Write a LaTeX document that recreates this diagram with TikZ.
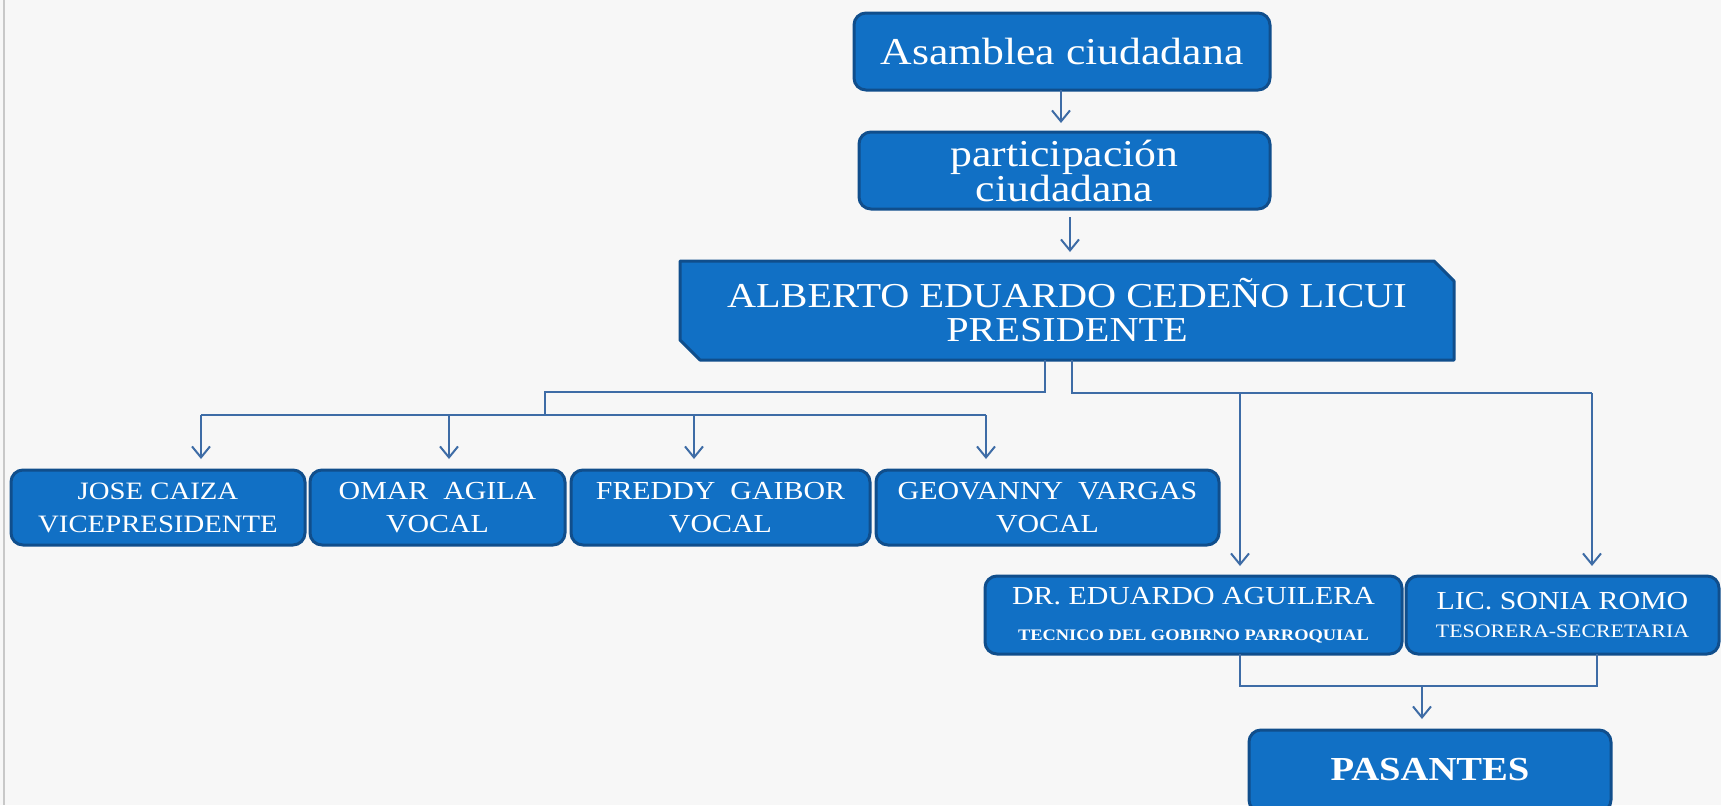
\documentclass[tikz,border=0pt]{standalone}
\usepackage{fontspec}
\setmainfont{Liberation Serif}[FakeStretch=1.15]
\usetikzlibrary{arrows.meta}
\definecolor{bgc}{RGB}{247,247,247}
\definecolor{boxfill}{RGB}{17,112,197}
\definecolor{boxline}{RGB}{16,78,140}
\definecolor{linec}{RGB}{62,108,166}
\definecolor{edgegray}{RGB}{200,200,200}
\begin{document}
\begin{tikzpicture}[x=0.5pt,y=-0.5pt,
  box/.style={rounded corners=6pt, fill=boxfill, draw=boxline, line width=1.5pt, text=white, align=center, inner sep=0pt, outer sep=0pt},
  plainbox/.style={text=white, align=center, inner sep=0pt, outer sep=0pt},
  wire/.style={draw=linec, line width=1pt},
  arr/.style={wire, -{Straight Barb[length=5.5pt,width=9pt,line width=1pt]}},
  low/.style={box, minimum height=37.5pt, font=\fontsize{13}{16.5}\selectfont}
]
\useasboundingbox (0,0) rectangle (1721,805);
\clip (0,0) rectangle (1721,805);
\fill[bgc] (0,0) rectangle (1721,805);
\draw[edgegray, line width=1pt] (4,0) -- (4,805);

% top boxes
\node[box, minimum width=208pt, minimum height=38.5pt, font=\fontsize{19}{21}\selectfont] (asam) at (1062,51.5) {Asamblea ciudadana};
\node[box, minimum width=205.5pt, minimum height=38.5pt, font=\fontsize{19}{17.5}\selectfont] (part) at (1064.5,170.5) {participación\\ciudadana};

% president (chamfered)
\filldraw[fill=boxfill, draw=boxline, line width=1.5pt, line join=round]
  (680,261) -- (1434,261) -- (1454,281) -- (1454,360) -- (700,360) -- (680,340) -- cycle;
\node[plainbox, minimum width=387pt, minimum height=49.5pt, font=\fontsize{17.5}{17}\selectfont] (pres) at (1067,310.5) {ALBERTO EDUARDO CEDEÑO LICUI\\PRESIDENTE};

% second row
\node[low, minimum width=147pt, font=\fontsize{12.5}{16.5}\selectfont] (jose) at (158,507.5) {JOSE CAIZA\\VICEPRESIDENTE};
\node[low, minimum width=127.5pt] (omar) at (437.5,507.5) {OMAR\ \ AGILA\\VOCAL};
\node[low, minimum width=149.5pt] (fred) at (720.5,507.5) {FREDDY\ \ GAIBOR\\VOCAL};
\node[low, minimum width=171.5pt] (geo) at (1047.5,507.5) {GEOVANNY\ \ VARGAS\\VOCAL};

% third row
\node[box, minimum width=208.5pt, minimum height=39pt, font=\fontsize{13}{18}\selectfont] (dr) at (1193.5,615)
  {DR. EDUARDO AGUILERA\\{\fontsize{8}{10}\selectfont\bfseries TECNICO DEL GOBIRNO PARROQUIAL}};
\node[box, minimum width=156.5pt, minimum height=39pt, font=\fontsize{13}{14}\selectfont] (sonia) at (1562.5,615)
  {LIC. SONIA ROMO\\{\fontsize{9.5}{11}\selectfont TESORERA-SECRETARIA}};

% pasantes
\node[box, minimum width=181pt, minimum height=41pt, font=\fontsize{16.8}{20}\selectfont\bfseries] (pas) at (1430,771) {\raisebox{1.5pt}{PASANTES}};

% connectors top
\draw[arr, shorten >=4.5pt] ([xshift=-0.5pt]asam.south) -- ([xshift=-0.5pt]asam.south |- part.north);
\draw[arr, shorten <=4pt, shorten >=4.5pt] ([xshift=2.75pt]part.south) -- ([xshift=2.75pt]part.south |- pres.north);

% left bus
\coordinate (kL) at (545,392);
\coordinate (busL) at (545,415);
\coordinate (a1) at (201,415);
\coordinate (a2) at (449,415);
\coordinate (a3) at (694,415);
\coordinate (a4) at (986,415);
\draw[wire] ([xshift=-11pt]pres.south) |- (kL) -- (busL);
\draw[wire] (a1) -- (a4);
\draw[arr, shorten >=5.5pt] (a1) -- (a1 |- jose.north);
\draw[arr, shorten >=5.5pt] (a2) -- (a2 |- omar.north);
\draw[arr, shorten >=5.5pt] (a3) -- (a3 |- fred.north);
\draw[arr, shorten >=5.5pt] (a4) -- (a4 |- geo.north);

% right bus
\coordinate (kR1) at (1240,393);
\coordinate (kR2) at (1592,393);
\draw[wire] ([xshift=2.5pt]pres.south) |- (kR2);
\draw[arr, shorten >=5pt] (kR1) -- (kR1 |- dr.north);
\draw[arr, shorten >=5pt] (kR2) -- (kR2 |- sonia.north);

% bottom join
\coordinate (m1) at (1240,686);
\coordinate (m2) at (1597,686);
\coordinate (mA) at (1422,686);
\draw[wire] (m1 |- dr.south) -- (m1) -- (m2) -- (m2 |- sonia.south);
\draw[arr, shorten >=5.5pt] (mA) -- (mA |- pas.north);
\end{tikzpicture}
\end{document}
